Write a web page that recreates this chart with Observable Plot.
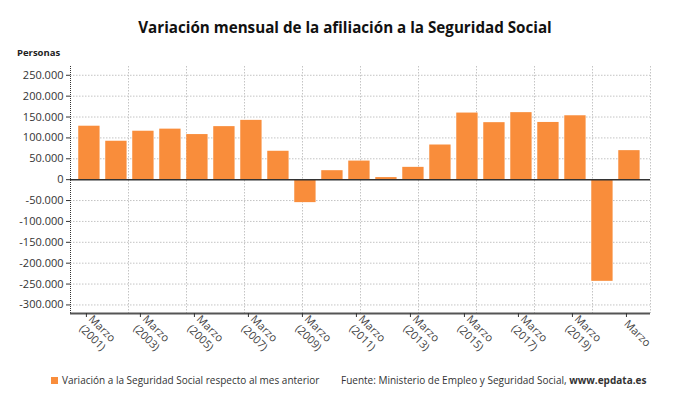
<!DOCTYPE html>
<html><head><meta charset="utf-8">
<script src="https://cdn.jsdelivr.net/npm/d3@7"></script>
<script src="https://cdn.jsdelivr.net/npm/@observablehq/plot@0.6"></script>
<style>
body{margin:0;background:#fff;font-family:"Open Sans",sans-serif;}
#wrap{position:relative;width:690px;height:406px;overflow:hidden;background:#fff}
#title{position:absolute;left:0;top:17px;width:690px;text-align:center;font-weight:700;font-size:15.2px;line-height:20px;color:#111}
#unit{position:absolute;left:17px;top:47px;font-weight:700;font-size:9.5px;line-height:12px;color:#222;z-index:2}
#chart{position:absolute;left:0;top:40px;z-index:1}
.leg{position:absolute;top:373px;font-size:10px;line-height:14px;color:#333;white-space:nowrap}
.sw{display:inline-block;width:7px;height:7px;background:#f98d3b;margin-right:4px;vertical-align:0px}
</style></head>
<body><div id="wrap">
<div id="title">Variación mensual de la afiliación a la Seguridad Social</div>
<div id="chart"></div>
<div id="unit">Personas</div>
<div class="leg" style="left:51px"><span class="sw"></span>Variación a la Seguridad Social respecto al mes anterior</div>
<div class="leg" style="left:341px">Fuente: Ministerio de Empleo y Seguridad Social, <b>www.epdata.es</b></div>
</div>
<script>
const years = [2001,2002,2003,2004,2005,2006,2007,2008,2009,2010,2011,2012,2013,2014,2015,2016,2017,2018,2019,2020,2021];
const values = [128000,92000,116000,121000,108000,127000,142000,68000,-55000,21500,44500,5000,29500,83000,159500,136500,160500,137000,153000,-243500,69500];
const tickYears = [2001,2003,2005,2007,2009,2011,2013,2015,2017,2019,2021];
const tickLabels = ["Marzo\n(2001)","Marzo\n(2003)","Marzo\n(2005)","Marzo\n(2007)","Marzo\n(2009)","Marzo\n(2011)","Marzo\n(2013)","Marzo\n(2015)","Marzo\n(2017)","Marzo\n(2019)","Marzo"];
const yTicks = [-300000,-250000,-200000,-150000,-100000,-50000,0,50000,100000,150000,200000,250000];

const data = years.map((year, i) => ({year, value: values[i]}));
const xDomain = [2000.3, 2021.78];
const yDomain = [-320500, 271000];
const grid = d3.range(11).map(i => xDomain[0] + i * (xDomain[1] - xDomain[0]) / 10);
const loc = d3.formatLocale({decimal: ",", thousands: ".", grouping: [3], currency: ["", "€"], minus: "-"});
const fmt = loc.format(",d");

const chart = Plot.plot({
  width: 690, height: 325,
  marginTop: 26, marginBottom: 52, marginLeft: 70, marginRight: 40,
  style: {fontFamily: "Open Sans", fontSize: "11px", color: "#333", background: "#fff"},
  x: {domain: xDomain, axis: null},
  y: {domain: yDomain, axis: null},
  marks: [
    Plot.ruleY(yTicks.filter(d => d !== 0), {stroke: "#c4c4c4", strokeDasharray: "1.5,1.5"}),
    Plot.ruleX(grid.slice(1), {stroke: "#c4c4c4", strokeDasharray: "1.5,1.5"}),
    Plot.rect(data, {x1: d => d.year - 0.395, x2: d => d.year + 0.395, y1: 0, y2: "value", fill: "#f98d3b"}),
    Plot.ruleY([0], {stroke: "#333", strokeWidth: 1.5}),
    Plot.ruleX([xDomain[0]], {stroke: "#333", strokeDasharray: "1,1"}),
    Plot.ruleY([yDomain[0]], {stroke: "#555", strokeWidth: 2}),
    Plot.axisY({ticks: yTicks, tickFormat: fmt, label: null, tickSize: 4, tickPadding: 3, fontSize: 11, stroke: "#333", fill: "#333"}),
    Plot.axisX({ticks: tickYears, tickFormat: d => tickLabels[tickYears.indexOf(d)], label: null, tickRotate: 45, textAnchor: "start", tickSize: 4, tickPadding: 4, dx: -3, lineHeight: 1.2, fontSize: 11, stroke: "#333", fill: "#444"})
  ]
});
document.getElementById("chart").appendChild(chart);
</script>
</body></html>
